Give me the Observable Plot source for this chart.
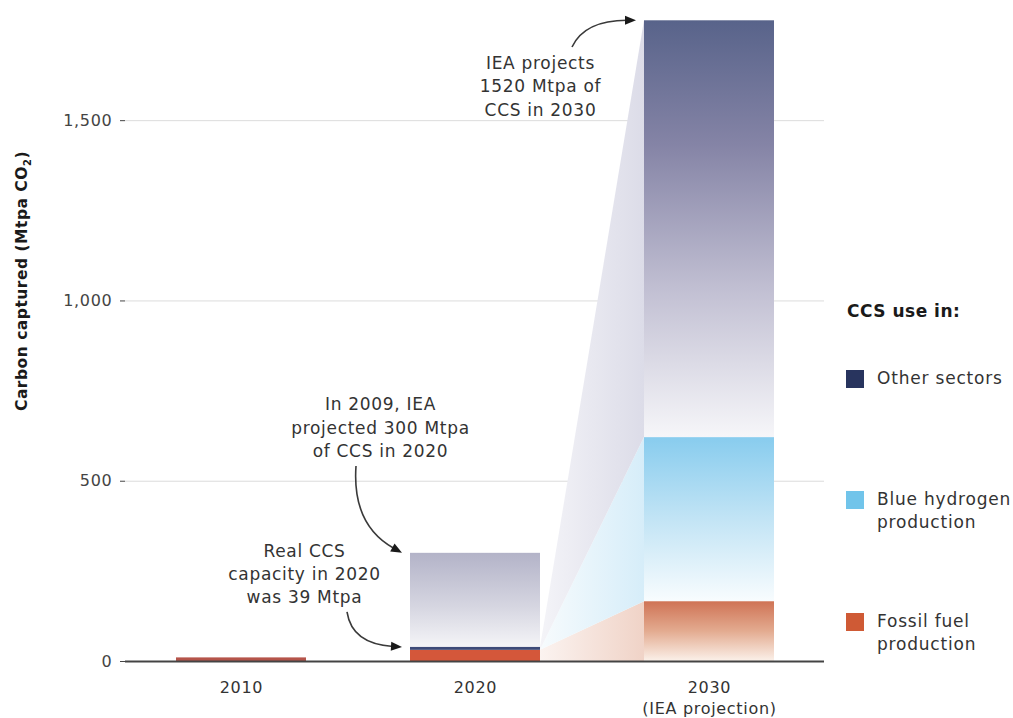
<!DOCTYPE html>
<html><head><meta charset="utf-8">
<script src="https://cdn.jsdelivr.net/npm/d3@7"></script>
<script src="https://cdn.jsdelivr.net/npm/@observablehq/plot@0.6"></script>
<style>
body{margin:0;background:#fff;font-family:"DejaVu Sans",sans-serif;}
#wrap{position:relative;width:1013px;height:718px;overflow:hidden;}
#chart{position:absolute;left:0;top:0;}
.lg-title{position:absolute;left:847px;top:298px;font-size:17px;font-weight:700;color:#1a1a1a;line-height:26px;letter-spacing:0.5px;}
.lg-item{position:absolute;left:846px;font-size:17px;line-height:23px;color:#333;letter-spacing:0.8px;}
.lg-sw{position:absolute;left:0;top:2.5px;width:18px;height:18px;}
.lg-tx{position:absolute;left:31px;top:0;white-space:nowrap;}
</style></head><body>
<div id="wrap"><div id="chart"></div><div id="legend"></div></div>
<script>
// ---- data ----
const years = ["2010", "2020", "2030"];
const yearLabels = ["2010", "2020", "2030\n(IEA projection)"];
const sectors = ["Fossil fuel production", "Blue hydrogen production", "Other sectors"];
const legendLabels = ["Other sectors", "Blue hydrogen\nproduction", "Fossil fuel\nproduction"];
const legendColors = ["#28345e", "#71c4ea", "#cf5a35"];
const fossil = [10, 31, 166];
const blueHydrogen = [0, 0, 455];
const otherSectors = [0, 8, 1156];
const projectedYear = "2020";
const projectedValue = 300;
const yTicks = [0, 500, 1000, 1500];
const notes = [
  {text: "IEA projects\n1520 Mtpa of\nCCS in 2030", year: "2030", value: 1600, dx: -169},
  {text: "In 2009, IEA\nprojected 300 Mtpa\nof CCS in 2020", year: "2020", value: 652, dx: -95},
  {text: "Real CCS\ncapacity in 2020\nwas 39 Mtpa", year: "2020", value: 247, dx: -171}
];
const arrows = [
  {fromYear: "2030", fromValue: 1703, fromDx: -137, toYear: "2030", toValue: 1777, toDx: -8, a: 0.2, b: 1.0},
  {fromYear: "2020", fromValue: 541, fromDx: -119, toYear: "2020", toValue: 300, toDx: -8, a: -0.09, b: 0.68},
  {fromYear: "2020", fromValue: 136, fromDx: -128, toYear: "2020", toValue: 39, toDx: -8, a: 0.09, b: 0.92}
];

// ---- styles ----
const solidFill = {
  "2010|Fossil fuel production": "#b5544a",
  "2020|Fossil fuel production": "#d4573a",
  "2020|Other sectors": "#3d4a78"
};
const gradFill = {
  "Fossil fuel production": "url(#g-fossil)",
  "Blue hydrogen production": "url(#g-blue)",
  "Other sectors": "url(#g-other)"
};
const wedgeIds = ["w-fossil", "w-blue", "w-other"];
const gradients = [
  {id: "g-proj", dir: "v", stops: [[0, "#b3b3c8"], [0.5, "#d6d6e1"], [1, "#ffffff"]]},
  {id: "g-other", dir: "v", stops: [[0, "#58638a"], [0.3, "#8584a6"], [0.65, "#c2c0d3"], [1, "#f6f6f9"]]},
  {id: "g-blue", dir: "v", stops: [[0, "#88ccee"], [0.5, "#c2e4f5"], [1, "#f8fcfe"]]},
  {id: "g-fossil", dir: "v", stops: [[0, "#cf7355"], [0.5, "#e3ab90"], [1, "#fbf1ea"]]},
  {id: "w-other", dir: "h", stops: [[0, "#f4f4f8"], [1, "#dcdce8"]]},
  {id: "w-blue", dir: "h", stops: [[0, "#f7fbfd"], [1, "#d6edf9"]]},
  {id: "w-fossil", dir: "h", stops: [[0, "#fbf3f0"], [1, "#f0d3c7"]]}
];

// ---- table ----
const seriesBySector = [fossil, blueHydrogen, otherSectors];
const rows = [];
years.forEach((year, i) => {
  sectors.forEach((sector, s) => {
    const value = seriesBySector[s][i];
    if (value > 0) {
      rows.push({year, sector, value,
        fill: year === "2030" ? gradFill[sector] : solidFill[year + "|" + sector]});
    }
  });
});
const projRows = [{year: projectedYear, value: projectedValue}];

function intervals(i) {
  let c = 0;
  return sectors.map((s, k) => { const lo = c; c += seriesBySector[k][i]; return [lo, c]; });
}

const defsMark = () => {
  const g = d3.create("svg:g");
  const defs = g.append("defs");
  for (const gr of gradients) {
    const lg = defs.append("linearGradient").attr("id", gr.id)
      .attr("x1", 0).attr("y1", 0)
      .attr("x2", gr.dir === "h" ? 1 : 0).attr("y2", gr.dir === "h" ? 0 : 1);
    for (const [o, c] of gr.stops) lg.append("stop").attr("offset", o).attr("stop-color", c);
  }
  return g.node();
};

const wedgeMark = (index, scales) => {
  const {x, y} = scales;
  const bw = x.bandwidth();
  const i20 = years.indexOf("2020"), i30 = years.indexOf("2030");
  const A = intervals(i20), B = intervals(i30);
  const xA = x("2020") + bw, xB = x("2030");
  const g = d3.create("svg:g");
  sectors.forEach((s, k) => {
    const pts = [[xA, y(A[k][0])], [xA, y(A[k][1])], [xB, y(B[k][1])], [xB, y(B[k][0])]];
    g.append("path").attr("d", "M" + pts.map(p => p.join(",")).join("L") + "Z")
      .attr("fill", `url(#${wedgeIds[k]})`);
  });
  return g.node();
};

const arrowMark = (index, scales) => {
  const {x, y} = scales;
  const bw = x.bandwidth();
  const g = d3.create("svg:g");
  for (const ar of arrows) {
    const fx = x(ar.fromYear) + bw / 2 + ar.fromDx, fy = y(ar.fromValue);
    const tx = x(ar.toYear) + ar.toDx, ty = y(ar.toValue);
    const cx = fx + ar.a * (tx - fx), cy = fy + ar.b * (ty - fy);
    const ang = Math.atan2(ty - cy, tx - cx);
    const L = 11, W = 4.5;
    const bx = tx - L * Math.cos(ang), by = ty - L * Math.sin(ang);
    const ex = tx - (L - 2) * Math.cos(ang), ey = ty - (L - 2) * Math.sin(ang);
    g.append("path").attr("d", `M${fx},${fy}Q${cx},${cy} ${ex},${ey}`)
      .attr("fill", "none").attr("stroke", "#3a3a3a").attr("stroke-width", 1.6);
    const p1 = [bx + W * Math.sin(ang), by - W * Math.cos(ang)];
    const p2 = [bx - W * Math.sin(ang), by + W * Math.cos(ang)];
    g.append("path").attr("d", `M${tx},${ty}L${p1}L${p2}Z`).attr("fill", "#1a1a1a");
  }
  return g.node();
};

const plot = Plot.plot({
  width: 835, height: 718,
  marginLeft: 125, marginRight: 11, marginTop: 12, marginBottom: 57,
  style: {fontFamily: "DejaVu Sans", fontSize: "16px", color: "#333", background: "transparent", overflow: "visible", letterSpacing: "0.7px"},
  x: {domain: years, paddingInner: 0.446, paddingOuter: 0.213},
  y: {domain: [0, 1800]},
  color: {type: "identity"},
  marks: [
    defsMark,
    Plot.ruleY(yTicks.filter(d => d > 0), {stroke: "#dcdcdc", strokeWidth: 1}),
    wedgeMark,
    Plot.barY(projRows, {x: "year", y: "value", fill: "url(#g-proj)"}),
    Plot.barY(rows, {x: "year", y: "value", fill: "fill"}),
    Plot.ruleY([0], {stroke: "#444", strokeWidth: 2}),
    Plot.axisY({ticks: yTicks, tickFormat: d3.format(","), tickSize: 5, tickPadding: 8, label: null, fontSize: 16, color: "#444"}),
    Plot.axisX({tickSize: 0, tickPadding: 17, label: null, fontSize: 16, color: "#333", lineHeight: 1.3,
      tickFormat: d => yearLabels[years.indexOf(d)]}),
    ...notes.map(n => Plot.text([n], {x: "year", y: "value", text: "text", dx: n.dx,
      fontSize: 17, lineHeight: 1.38, fill: "#333", textAnchor: "middle"})),
    arrowMark
  ]
});

const svg = d3.select(plot);
const t = svg.append("text")
  .attr("transform", "translate(27,281) rotate(-90)")
  .attr("text-anchor", "middle")
  .attr("font-family", "DejaVu Sans").attr("font-weight", 700).attr("font-size", 15.5).attr("fill", "#1a1a1a")
  .attr("letter-spacing", "0.5px");
t.append("tspan").text("Carbon captured (Mtpa CO");
t.append("tspan").text("2").attr("font-size", 10).attr("dy", 4);
t.append("tspan").text(")").attr("dy", -4);

document.getElementById("chart").appendChild(plot);

const lg = document.getElementById("legend");
const title = document.createElement("div");
title.className = "lg-title"; title.textContent = "CCS use in:";
lg.appendChild(title);
const itemTops = [367, 488, 610];
legendLabels.forEach((lab, i) => {
  const it = document.createElement("div");
  it.className = "lg-item"; it.style.top = itemTops[i] + "px";
  const sw = document.createElement("div"); sw.className = "lg-sw"; sw.style.background = legendColors[i];
  const tx = document.createElement("div"); tx.className = "lg-tx";
  lab.split("\n").forEach((line, j) => { if (j) tx.appendChild(document.createElement("br")); tx.appendChild(document.createTextNode(line)); });
  it.appendChild(sw); it.appendChild(tx); lg.appendChild(it);
});
</script>
</body></html>
